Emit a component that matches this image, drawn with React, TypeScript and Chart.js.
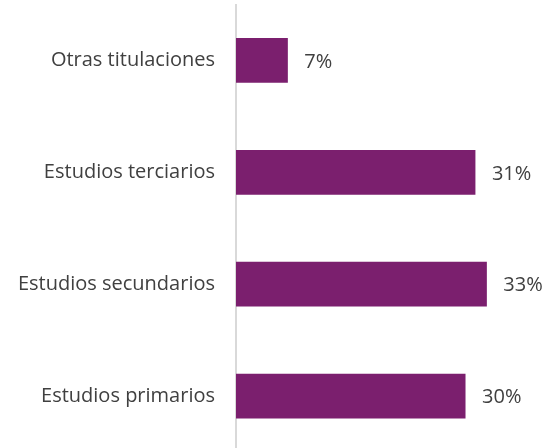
import React, { useEffect, useRef } from "react";
import { Chart, registerables } from "chart.js";

Chart.register(...registerables);

const categories = ["Otras titulaciones", "Estudios terciarios", "Estudios secundarios", "Estudios primarios"];
const values = [6.8, 31.4, 32.9, 30.1];
const valueLabels = ["7%", "31%", "33%", "30%"];

const FONT = "'Open Sans', sans-serif";

const valueLabelPlugin = {
  id: "valueLabels",
  afterDatasetsDraw(chart: any) {
    const ctx = chart.ctx;
    const meta = chart.getDatasetMeta(0);
    ctx.save();
    ctx.font = `20px ${FONT}`;
    ctx.fillStyle = "#404040";
    ctx.textAlign = "left";
    ctx.textBaseline = "middle";
    meta.data.forEach((bar: any, i: number) => {
      ctx.fillText(valueLabels[i], bar.x + 16.5, bar.y + 1.5);
    });
    ctx.restore();
  },
};

export default function App() {
  const ref = useRef<HTMLCanvasElement>(null);
  useEffect(() => {
    if (!ref.current) return;
    const chart = new Chart(ref.current, {
      type: "bar",
      data: {
        labels: categories,
        datasets: [
          {
            data: values,
            backgroundColor: "#7B1F6E",
            barPercentage: 0.4,
            categoryPercentage: 1,
          },
        ],
      },
      options: {
        indexAxis: "y",
        animation: false,
        responsive: false,
        layout: { padding: { top: 4.5, right: 11, bottom: 0, left: 0 } },
        plugins: { legend: { display: false }, tooltip: { enabled: false } },
        scales: {
          x: { display: false, min: 0, max: 40 },
          y: {
            grid: { display: false, drawTicks: false },
            border: { display: true, color: "#d9d9d9", width: 2 },
            ticks: {
              color: "#404040",
              font: { family: FONT, size: 20 },
              padding: 21,
            },
            afterFit(scale: any) {
              scale.width = 236;
              scale.paddingTop = 0;
              scale.paddingBottom = 0;
            },
          },
        },
      },
      plugins: [valueLabelPlugin],
    });
    return () => chart.destroy();
  }, []);
  return (
    <div style={{ position: "absolute", left: 0, top: 0, width: 552, height: 448, overflow: "hidden", background: "#fff" }}>
      <canvas ref={ref} width={552} height={452} style={{ display: "block" }} />
    </div>
  );
}
